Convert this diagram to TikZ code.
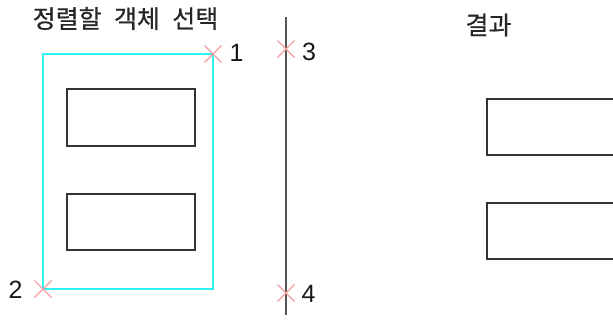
\documentclass[tikz,border=0pt]{standalone}
\usepackage{fontspec}
\setmainfont{Liberation Sans}
\newfontfamily\kr[WordSpace=2.2,FakeBold=0.6]{Noto Sans CJK KR}
\definecolor{cyanline}{HTML}{33F0F0}
\definecolor{xred}{HTML}{F4A0A0}
\definecolor{objline}{HTML}{333333}
\definecolor{axisline}{HTML}{555555}
\tikzset{
  objrect/.style={draw=objline, line width=1.4pt},
  selrect/.style={draw=cyanline, line width=1.6pt},
  xmark/.style={draw=xred, line width=1.1pt},
  numlabel/.style={inner sep=0pt, font=\fontsize{25}{28}\selectfont, text=black!90},
  krtitle/.style={inner sep=0pt, font=\kr\fontsize{25}{28}\selectfont, text=black!85}
}
\begin{document}
\begin{tikzpicture}[x=1pt,y=-1pt]
\useasboundingbox (0,0) rectangle (613,323);
\clip (0,0) rectangle (613,323);
% titles
\node[krtitle] (t1) at (125.5,18.5) {정렬할 객체 선택};
\node[krtitle] (t2) at (488.5,25) {결과};
% selection window
\draw[selrect] (43,54) rectangle (213,289);
% objects
\draw[objrect] (67,89) rectangle (195,146);
\draw[objrect] (67,194) rectangle (195,250);
% alignment line
\coordinate (la) at (286,17);
\coordinate (lb) at (286,315);
\draw[draw=axisline, line width=1.8pt] (la) -- (lb);
% result objects
\draw[objrect] (487,99) rectangle (640,155);
\draw[objrect] (487,203) rectangle (640,259);
% picks
\foreach \n/\px/\py in {p1/213/54, p2/43/289, p3/286/49, p4/286/293}{
  \coordinate (\n) at (\px,\py);
  \draw[xmark] ([shift={(-8.5,-8.5)}]\n) -- ([shift={(8.5,8.5)}]\n);
  \draw[xmark] ([shift={(-8.5,8.5)}]\n) -- ([shift={(8.5,-8.5)}]\n);
}
\node[numlabel] (n1) at (236.5,52.5) {1};
\node[numlabel] (n2) at (15.5,290) {2};
\node[numlabel] (n3) at (309,52) {3};
\node[numlabel] (n4) at (308.5,294) {4};
\end{tikzpicture}
\end{document}
